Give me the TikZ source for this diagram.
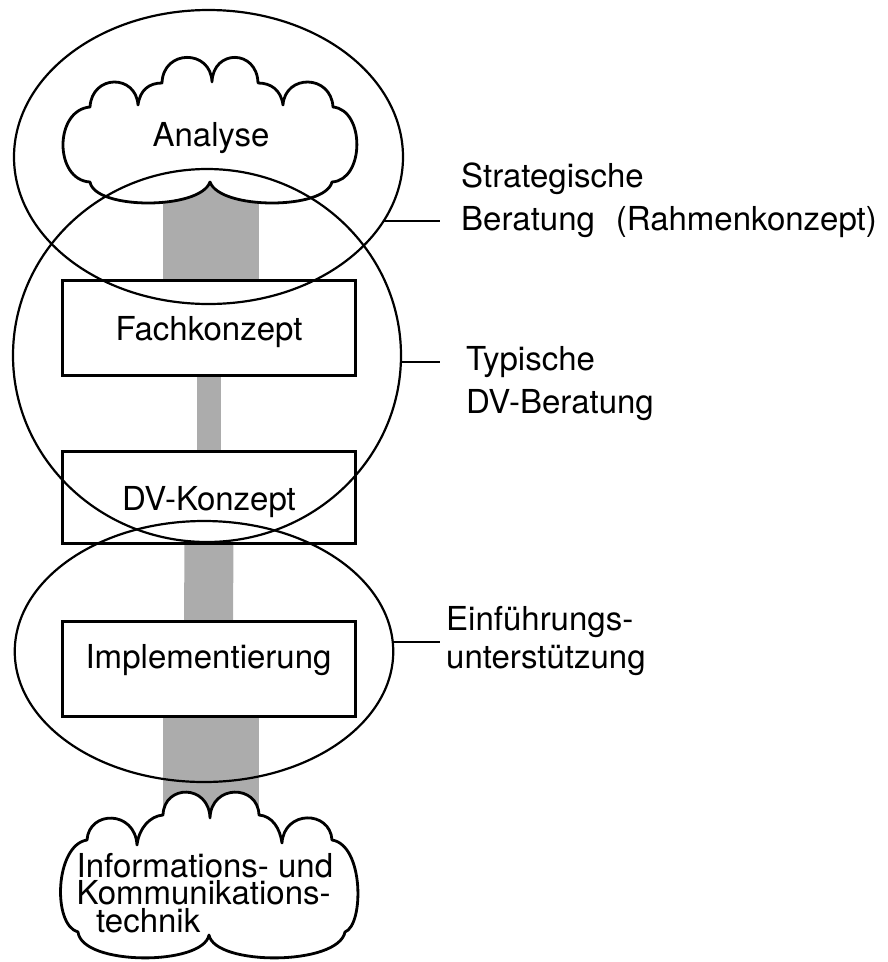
\documentclass[tikz,border=0pt]{standalone}
\usepackage{fontspec}
\setmainfont{TeX Gyre Heros}
\usetikzlibrary{shapes.geometric}
\pgfdeclarelayer{bg}
\pgfsetlayers{bg,main}
\begin{document}
\begin{tikzpicture}[x=1pt,y=-1pt,
  every node/.style={font=\fontsize{33}{40}\selectfont},
  ell/.style={draw, ellipse, line width=2.2pt, inner sep=0pt, outer sep=0pt},
  stepbox/.style={draw, fill=white, line width=3pt, minimum width=293pt, inner sep=0pt, outer sep=0pt},
  barfill/.style={draw=gray!65},
  cloudline/.style={draw, fill=white, line width=2.8pt, line join=round},
  conn/.style={line width=2pt},
  lab/.style={anchor=base west, inner sep=0pt}
]
\useasboundingbox (0,0) rectangle (888,962);

% stage boxes
\node[stepbox, minimum height=95pt, text height=26pt, text depth=0pt] (Fach) at (209,327.5) {Fachkonzept};
\node[stepbox, minimum height=92pt, text height=26pt, text depth=0pt] (DV) at (209,497.6) {DV-Konzept};
\node[stepbox, minimum height=95pt, text height=24pt, text depth=26pt] (Impl) at (208.5,669) {Implementierung};

\coordinate (A) at (211,140);
\coordinate (K) at (211,880);

% gray bars
\begin{pgfonlayer}{bg}
\draw[barfill, line width=96pt] (A) -- (A |- Fach.north);
\draw[barfill, line width=24pt] (Fach.south) -- (DV.north);
\draw[barfill, line width=49pt] (DV.south) -- (Impl.north);
\draw[barfill, line width=96pt] (Impl.south -| K) -- (K);
\end{pgfonlayer}

% top cloud
\path[cloudline] (90,107)
 .. controls (92,74) and (136,74) .. (138,105)
 .. controls (140,90) and (149,83) .. (162,83)
 .. controls (163,49) and (211,49) .. (212,82)
 .. controls (213,49) and (257,49) .. (258,83)
 .. controls (271,83) and (281,90) .. (283,105)
 .. controls (285,74) and (331,74) .. (333,107)
 .. controls (365,110) and (365,180) .. (332,182)
 .. controls (325,210) and (220,210) .. (210,182)
 .. controls (200,210) and (95,210) .. (90,182)
 .. controls (54,180) and (54,110) .. (90,107) -- cycle;
\node[anchor=base] (AnaT) at (211,146) {Analyse};

% bottom cloud
\path[cloudline] (87,840)
 .. controls (89,810) and (135,810) .. (137,845)
 .. controls (139,828) and (150,816) .. (163,815)
 .. controls (164,784) and (209,784) .. (210,818)
 .. controls (211,784) and (258,784) .. (259,815)
 .. controls (272,816) and (280,828) .. (282,843)
 .. controls (284,810) and (330,810) .. (332,840)
 .. controls (364,845) and (364,925) .. (345,932)
 .. controls (338,966) and (215,966) .. (209,935)
 .. controls (203,966) and (82,966) .. (78,932)
 .. controls (52,925) and (55,845) .. (87,840) -- cycle;
\node[lab] (IuK) at (76.5,877) {\vtop{\baselineskip=27.5pt\hbox{Informations- und}\hbox{Kommunikations-}\hbox{\hskip19.5pt technik}}};

% ellipses
\node[ell, minimum width=389pt, minimum height=294pt] (E1) at (208.5,157) {};
\node[ell, minimum width=388pt, minimum height=373pt] (E2) at (207,355.5) {};
\node[ell, minimum width=378.5pt, minimum height=261pt] (E3) at (204,651.5) {};

% labels
\node[lab] (L1) at (461,187) {\vtop{\baselineskip=43pt\hbox{Strategische}\hbox{Beratung\hskip21pt(Rahmenkonzept)}}};
\node[lab] (L2) at (466,370) {\vtop{\baselineskip=43pt\hbox{Typische}\hbox{DV-Beratung}}};
\node[lab] (L3) at (446,630) {\vtop{\baselineskip=38pt\hbox{Einführungs-}\hbox{unterstützung}}};

% connectors
\coordinate (c1) at (440,222);
\coordinate (c2) at (440,365);
\coordinate (c3) at (440,642);
\coordinate (p1) at (E1.-20);
\coordinate (p2) at (E2.-2.8);
\coordinate (p3) at (E3.3);
\draw[conn] (p1) -- (p1 -| c1);
\draw[conn] (p2) -- (p2 -| c2);
\draw[conn] (p3) -- (p3 -| c3);
\end{tikzpicture}
\end{document}
